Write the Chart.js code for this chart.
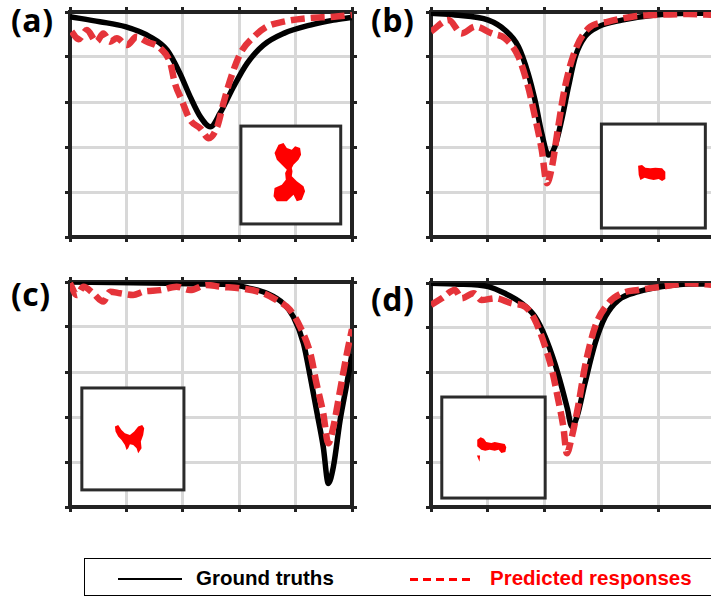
<!DOCTYPE html>
<html>
<head>
<meta charset="utf-8">
<script src="https://cdn.jsdelivr.net/npm/chart.js@4.4.1/dist/chart.umd.min.js"></script>
<style>
  html, body { margin: 0; padding: 0; background: #fff; width: 711px; height: 598px; overflow: hidden; }
  .wrap { position: relative; width: 711px; height: 598px; }
  canvas { position: absolute; }
  .lbl { position: absolute; font-family: "Open Sans", sans-serif; font-weight: 700; font-size: 32px; line-height: 32px; color: #000; letter-spacing: 0.5px; }
  .legend { position: absolute; left: 84px; top: 558px; width: 640px; height: 38px; border: 1.5px solid #000; box-sizing: border-box;
    font-family: "Liberation Sans", Arial, sans-serif; font-weight: 700; font-size: 20.5px; }
  .legend .gt-line { position: absolute; left: 33px; top: 19px; width: 64px; height: 2px; background: #000; }
  .legend .gt-txt { position: absolute; left: 111px; top: 7px; color: #000; }
  .legend .pr-line { position: absolute; left: 325px; top: 19px; width: 62px; height: 3px;
    background: repeating-linear-gradient(90deg, #ff0000 0 8px, transparent 8px 13px); }
  .legend .pr-txt { position: absolute; left: 405px; top: 7px; color: #ff0000; }
</style>
</head>
<body>
<div class="wrap">
  <canvas id="chart_a" width="298" height="241" style="left:62px; top:4px"></canvas>
  <canvas id="chart_b" width="300" height="241" style="left:423px; top:4px"></canvas>
  <canvas id="chart_c" width="298" height="241" style="left:62px; top:274px"></canvas>
  <canvas id="chart_d" width="300" height="240" style="left:423px; top:275px"></canvas>
  <div class="lbl" style="left:11px; top:4px">(a)</div>
  <div class="lbl" style="left:371px; top:4px">(b)</div>
  <div class="lbl" style="left:11px; top:278px">(c)</div>
  <div class="lbl" style="left:371px; top:283px">(d)</div>
  <div class="legend">
    <div class="gt-line"></div><div class="gt-txt">Ground truths</div>
    <div class="pr-line"></div><div class="pr-txt">Predicted responses</div>
  </div>
</div>
<script>
// axis ticks (x: 0..5, y: 0..1)
const xTicks = [0, 1, 2, 3, 4, 5];
const yTicks = [0, 0.2, 0.4, 0.6, 0.8, 1];

// (a)
const aTruthX = [0, 0.53, 0.98, 1.42, 1.72, 1.95, 2.13, 2.31, 2.49, 2.66, 2.90, 3.14, 3.43, 3.79, 4.26, 4.67, 5.0];
const aTruthY = [0.979, 0.957, 0.935, 0.890, 0.831, 0.727, 0.624, 0.535, 0.490, 0.550, 0.668, 0.772, 0.853, 0.905, 0.942, 0.964, 0.976];
const aPredX = [0.03, 0.15, 0.30, 0.47, 0.59, 0.71, 0.83, 1.01, 1.18, 1.36, 1.60, 1.78, 1.86, 1.98, 2.13, 2.31, 2.46, 2.61, 2.72, 2.84, 3.02, 3.26, 3.49, 3.79, 4.20, 4.68, 5.0];
const aPredY = [0.913, 0.879, 0.920, 0.868, 0.905, 0.868, 0.883, 0.853, 0.890, 0.868, 0.839, 0.772, 0.683, 0.609, 0.520, 0.483, 0.439, 0.490, 0.594, 0.698, 0.816, 0.890, 0.935, 0.957, 0.972, 0.979, 0.987];

// (b)
const bTruthX = [0, 0.42, 1.01, 1.30, 1.54, 1.71, 1.83, 1.95, 2.07, 2.18, 2.30, 2.42, 2.54, 2.71, 2.95, 3.36, 3.95, 4.53, 5.0];
const bTruthY = [0.994, 0.987, 0.964, 0.920, 0.846, 0.727, 0.609, 0.461, 0.364, 0.401, 0.520, 0.668, 0.801, 0.890, 0.935, 0.964, 0.987, 0.994, 0.994];
const bPredX = [0, 0.31, 0.54, 0.78, 1.07, 1.30, 1.54, 1.71, 1.83, 1.95, 2.04, 2.13, 2.24, 2.36, 2.54, 2.77, 3.12, 3.54, 3.95, 4.53, 5.0];
const bPredY = [0.913, 0.964, 0.905, 0.935, 0.905, 0.883, 0.801, 0.668, 0.535, 0.387, 0.239, 0.313, 0.490, 0.668, 0.831, 0.927, 0.957, 0.979, 0.987, 0.991, 0.987];

// (c)
const cTruthX = [0, 1.12, 2.30, 2.90, 3.19, 3.49, 3.78, 3.96, 4.14, 4.26, 4.37, 4.49, 4.58, 4.67, 4.79, 4.91, 5.0];
const cTruthY = [1.0, 0.997, 0.991, 0.987, 0.972, 0.950, 0.905, 0.846, 0.727, 0.579, 0.431, 0.268, 0.105, 0.179, 0.387, 0.550, 0.680];
const cPredX = [0, 0.12, 0.24, 0.41, 0.59, 0.71, 0.89, 1.12, 1.30, 1.60, 1.89, 2.13, 2.42, 2.66, 3.01, 3.43, 3.66, 3.90, 4.08, 4.26, 4.37, 4.49, 4.58, 4.67, 4.79, 4.91, 5.0];
const cPredY = [0.994, 0.942, 0.979, 0.950, 0.913, 0.957, 0.950, 0.942, 0.957, 0.964, 0.979, 0.964, 0.987, 0.979, 0.972, 0.950, 0.920, 0.876, 0.801, 0.683, 0.550, 0.416, 0.283, 0.357, 0.520, 0.683, 0.790];

// (d)
const dTruthX = [0, 0.42, 1.01, 1.30, 1.60, 1.83, 2.01, 2.18, 2.30, 2.40, 2.48, 2.57, 2.71, 2.89, 3.07, 3.30, 3.65, 4.07, 4.53, 5.0];
const dTruthY = [0.999, 0.996, 0.984, 0.954, 0.909, 0.850, 0.760, 0.641, 0.537, 0.440, 0.358, 0.403, 0.552, 0.731, 0.850, 0.924, 0.961, 0.984, 0.996, 0.996];
const dPredX = [0, 0.19, 0.42, 0.54, 0.75, 0.89, 1.13, 1.42, 1.66, 1.83, 2.01, 2.13, 2.24, 2.33, 2.39, 2.48, 2.60, 2.71, 2.89, 3.12, 3.36, 3.65, 4.07, 4.53, 5.0];
const dPredY = [0.902, 0.932, 0.969, 0.932, 0.954, 0.924, 0.932, 0.909, 0.894, 0.835, 0.716, 0.612, 0.478, 0.358, 0.240, 0.314, 0.463, 0.626, 0.805, 0.909, 0.954, 0.969, 0.984, 0.999, 0.991];

// inset shapes (fractions of the inset box)
const shapeA = [[0.337,0.276],[0.377,0.191],[0.427,0.173],[0.46,0.224],[0.51,0.242],[0.543,0.207],[0.593,0.224],[0.603,0.293],[0.577,0.344],[0.527,0.395],[0.51,0.429],[0.517,0.462],[0.51,0.513],[0.56,0.564],[0.627,0.615],[0.643,0.666],[0.61,0.752],[0.56,0.768],[0.527,0.701],[0.493,0.735],[0.46,0.768],[0.36,0.768],[0.327,0.717],[0.337,0.633],[0.41,0.599],[0.45,0.548],[0.443,0.48],[0.46,0.446],[0.41,0.395],[0.36,0.344]];
const shapeB = [[0.353,0.401],[0.391,0.394],[0.423,0.42],[0.471,0.426],[0.519,0.42],[0.584,0.426],[0.615,0.459],[0.615,0.529],[0.584,0.548],[0.551,0.529],[0.503,0.538],[0.455,0.529],[0.416,0.516],[0.375,0.538],[0.359,0.49]];
const shapeC = [[0.324,0.379],[0.356,0.363],[0.389,0.412],[0.422,0.444],[0.471,0.461],[0.513,0.428],[0.552,0.379],[0.591,0.363],[0.611,0.395],[0.601,0.461],[0.578,0.526],[0.585,0.591],[0.552,0.64],[0.536,0.591],[0.503,0.559],[0.471,0.552],[0.454,0.591],[0.438,0.608],[0.422,0.559],[0.389,0.51],[0.356,0.477],[0.33,0.428]];
const shapeD = [[0.343,0.423],[0.376,0.399],[0.408,0.413],[0.43,0.446],[0.479,0.455],[0.512,0.446],[0.56,0.455],[0.609,0.465],[0.624,0.498],[0.615,0.545],[0.576,0.554],[0.55,0.522],[0.512,0.532],[0.463,0.522],[0.42,0.532],[0.381,0.522],[0.343,0.488]];
const shapeD2 = [[0.34,0.58],[0.37,0.58],[0.365,0.64]];

const toPoints = (xs, ys) => xs.map((x, i) => ({ x: x, y: ys[i] }));

// white inset box with the red geometry, placed in data units
const insetPlugin = {
  id: 'inset',
  afterDatasetsDraw(chart, args, opts) {
    const ctx = chart.ctx;
    const sx = chart.scales.x, sy = chart.scales.y;
    const x1 = sx.getPixelForValue(opts.box[0]), x2 = sx.getPixelForValue(opts.box[1]);
    const y1 = sy.getPixelForValue(opts.box[2]), y2 = sy.getPixelForValue(opts.box[3]);
    const w = x2 - x1, h = y2 - y1;
    ctx.save();
    ctx.fillStyle = '#fff';
    ctx.fillRect(x1, y1, w, h);
    ctx.lineWidth = 3;
    ctx.strokeStyle = '#2b2b2b';
    ctx.strokeRect(x1, y1, w, h);
    ctx.fillStyle = '#ff0000';
    opts.shapes.forEach(s => {
      ctx.beginPath();
      s.forEach((p, i) => {
        const px = x1 + p[0] * w, py = y1 + p[1] * h;
        i ? ctx.lineTo(px, py) : ctx.moveTo(px, py);
      });
      ctx.closePath();
      ctx.fill();
    });
    ctx.restore();
  }
};

function fixSize(size) {
  return function (scale) {
    if (scale.isHorizontal()) scale.height = size;
    else scale.width = size;
  };
}

function axis(position, onArea) {
  return {
    type: 'linear',
    position: position,
    min: 0,
    max: position === 'bottom' || position === 'top' ? 5 : 1,
    afterBuildTicks: s => { s.ticks = (s.isHorizontal() ? xTicks : yTicks).map(v => ({ value: v })); },
    ticks: { display: false },
    grid: {
      display: true,
      drawOnChartArea: onArea,
      color: '#d8d8d8',
      lineWidth: 3,
      drawTicks: true,
      tickLength: 5,
      tickColor: '#222',
      tickWidth: 3
    },
    border: { display: true, color: '#222', width: 4 },
    afterFit: fixSize(8)
  };
}

function makeChart(id, truth, pred, box, shapes) {
  new Chart(document.getElementById(id).getContext('2d'), {
    type: 'line',
    data: {
      datasets: [
        {
          label: 'Ground truths',
          data: truth,
          borderColor: '#000',
          borderWidth: 5.5,
          pointRadius: 0,
          cubicInterpolationMode: 'monotone',
          order: 1
        },
        {
          label: 'Predicted responses',
          data: pred,
          borderColor: '#e5343a',
          borderWidth: 6.5,
          borderDash: [14, 6],
          pointRadius: 0,
          cubicInterpolationMode: 'monotone',
          order: 0
        }
      ]
    },
    options: {
      responsive: false,
      animation: false,
      layout: { padding: 0 },
      scales: {
        x: axis('bottom', true),
        y: axis('left', true),
        x2: axis('top', false),
        y2: axis('right', false)
      },
      plugins: {
        legend: { display: false },
        tooltip: { enabled: false },
        inset: { box: box, shapes: shapes }
      }
    },
    plugins: [insetPlugin]
  });
}

makeChart('chart_a', toPoints(aTruthX, aTruthY), toPoints(aPredX, aPredY), [3.03, 4.80, 0.493, 0.058], [shapeA]);
makeChart('chart_b', toPoints(bTruthX, bTruthY), toPoints(bPredX, bPredY), [3.00, 4.83, 0.502, 0.040], [shapeB]);
makeChart('chart_c', toPoints(cTruthX, cTruthY), toPoints(cPredX, cPredY), [0.21, 2.02, 0.529, 0.076], [shapeC]);
makeChart('chart_d', toPoints(dTruthX, dTruthY), toPoints(dPredX, dPredY), [0.19, 2.01, 0.491, 0.040], [shapeD, shapeD2]);
</script>
</body>
</html>
